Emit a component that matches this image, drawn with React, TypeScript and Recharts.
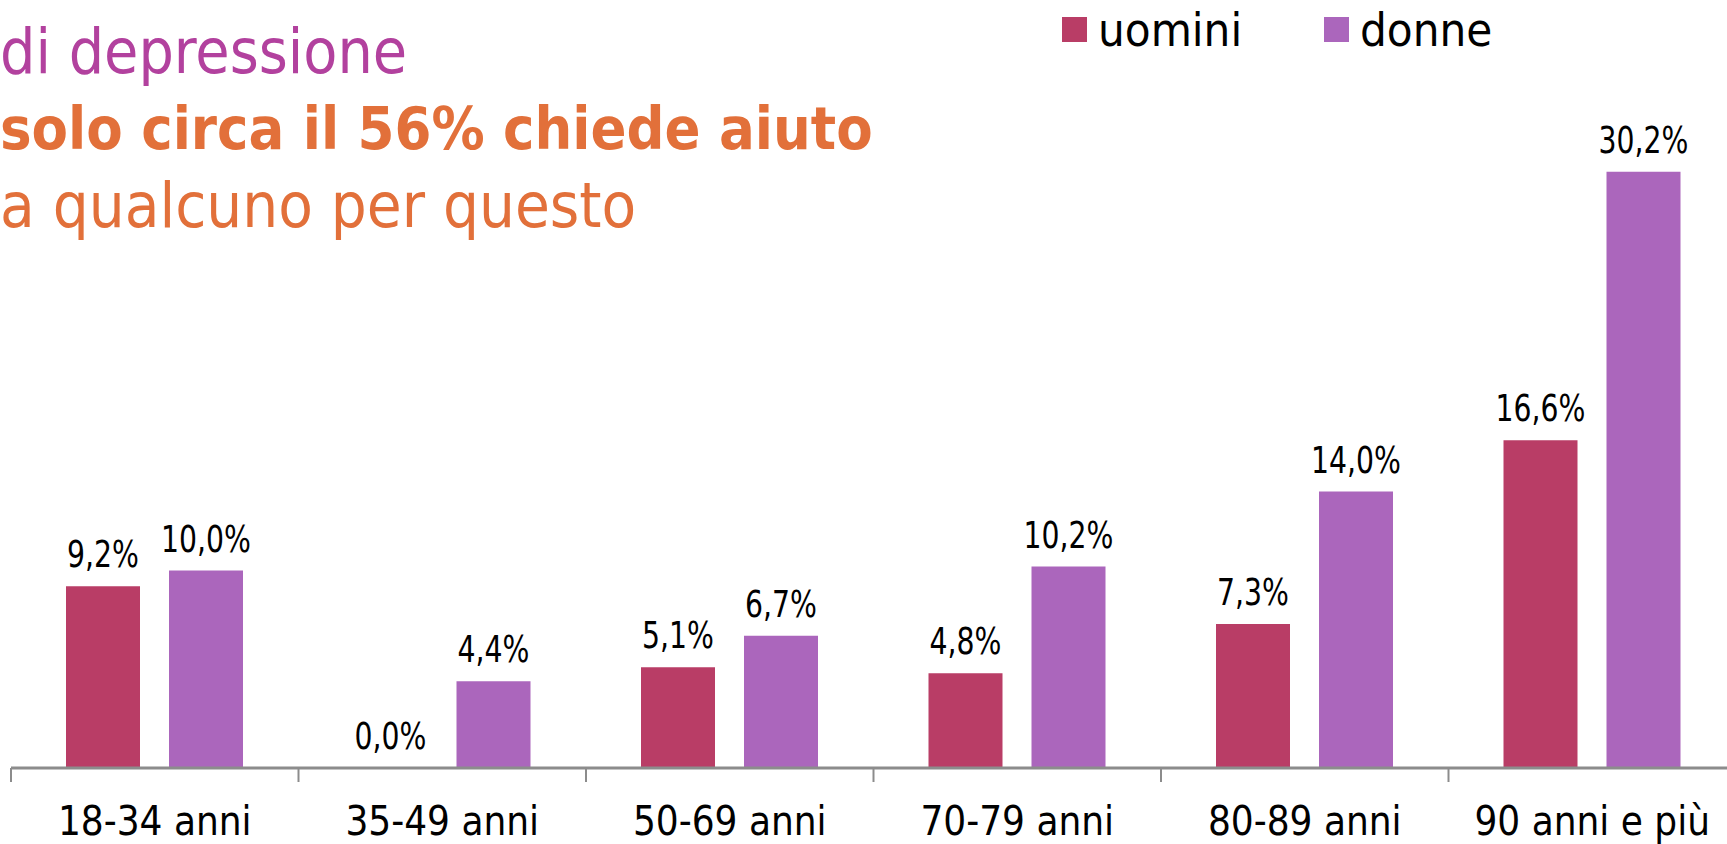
import React from 'react';
import { BarChart, Bar, XAxis, YAxis, LabelList } from 'recharts';

const categories = ['18-34 anni', '35-49 anni', '50-69 anni', '70-79 anni', '80-89 anni', '90 anni e più'];
const uomini = [9.2, 0.0, 5.1, 4.8, 7.3, 16.6];
const donne = [10.0, 4.4, 6.7, 10.2, 14.0, 30.2];
const seriesNames = ['uomini', 'donne'];
const seriesColors = ['#B93D66', '#AB66BC'];
const titleLines = ['di depressione', 'solo circa il 56% chiede aiuto', 'a qualcuno per questo'];

const data = categories.map((name, i) => ({ name, uomini: uomini[i], donne: donne[i] }));

const FONT = "'DejaVu Sans Condensed', 'DejaVu Sans', sans-serif";
const CHART_W = 1750;
const CHART_H = 844;
const MARGIN = { top: 77, right: 14, bottom: 0, left: 11 };
const PLOT_W = CHART_W - MARGIN.left - MARGIN.right;
const BAND = PLOT_W / categories.length;

const fmt = (v: any) => Number(v).toFixed(1).replace('.', ',') + '%';

// tick mark sits on the left edge of each category, label centred below
const CategoryTick = (props: any) => {
  const { x, y, payload } = props;
  return (
    <g>
      <line x1={x - BAND / 2} x2={x - BAND / 2} y1={y} y2={y + 14} stroke="#8c8c8c" strokeWidth={2} />
      <text x={x} y={y + 67} textAnchor="middle" fontSize={40} fontFamily={FONT} fill="#000">
        {payload.value}
      </text>
    </g>
  );
};

// value labels are a narrower face in the original, so squeeze horizontally
const ValueLabel = (props: any) => {
  const { x, y, width, value } = props;
  if (value == null) return null;
  const cx = Number(x) + Number(width) / 2;
  const by = Number(y) - 19;
  return (
    <text
      transform={`translate(${cx},${by}) scale(0.85,1)`}
      textAnchor="middle"
      fontSize={37}
      fontFamily={FONT}
      fill="#000"
    >
      {fmt(value)}
    </text>
  );
};

const Header = () => (
  <svg width={1727} height={260} style={{ position: 'absolute', left: 0, top: 0, pointerEvents: 'none' }}>
    <text x={0} y={73} fontSize={62} fontFamily={FONT} fill="#B2419E">{titleLines[0]}</text>
    <text x={0} y={149} fontSize={59} fontWeight="bold" fontFamily={FONT} fill="#E2703A">{titleLines[1]}</text>
    <text x={0} y={227} fontSize={63} fontFamily={FONT} fill="#E2703A">{titleLines[2]}</text>
    {seriesNames.map((s, i) => (
      <g key={s} transform={`translate(${1062 + i * 262}, 0)`}>
        <rect x={0} y={17} width={25} height={25} fill={seriesColors[i]} />
        <text x={36} y={46} fontSize={47} fontFamily={FONT} fill="#000">{s}</text>
      </g>
    ))}
  </svg>
);

export default function App() {
  return (
    <div style={{ position: 'absolute', left: 0, top: 0, width: 1727, height: 844, overflow: 'hidden', background: '#fff' }}>
      <BarChart width={CHART_W} height={CHART_H} data={data} margin={MARGIN} barSize={74} barGap={29}>
        <YAxis hide domain={[0, 35]} allowDataOverflow />
        <XAxis
          dataKey="name"
          height={76}
          interval={0}
          tickLine={false}
          tickSize={0}
          tickMargin={0}
          axisLine={{ stroke: '#8c8c8c', strokeWidth: 3 }}
          tick={(p: any) => <CategoryTick {...p} />}
        />
        {seriesNames.map((s, i) => (
          <Bar key={s} dataKey={s} name={s} fill={seriesColors[i]} minPointSize={0.01} isAnimationActive={false}>
            <LabelList dataKey={s} content={(p: any) => <ValueLabel {...p} />} />
          </Bar>
        ))}
      </BarChart>
      <Header />
    </div>
  );
}
